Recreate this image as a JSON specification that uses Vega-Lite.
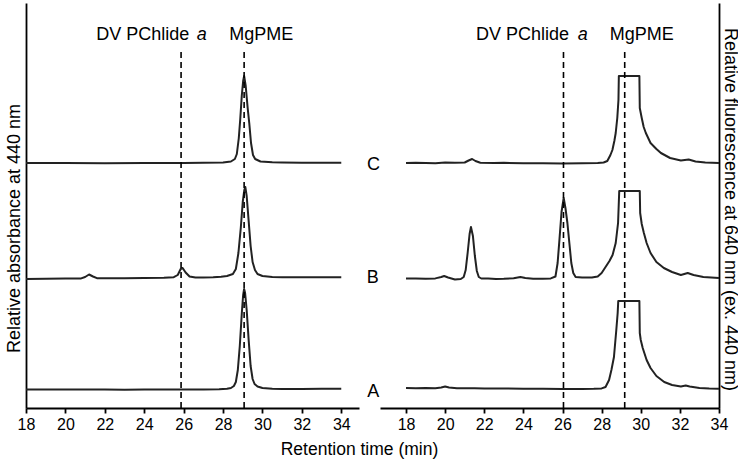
{
  "$schema": "https://vega.github.io/schema/vega-lite/v6.json",
  "padding": {"left": 5, "top": 3, "right": 0, "bottom": 0},
  "background": "white",
  "bounds": "flush",
  "config": {
    "view": {"stroke": null},
    "font": "Liberation Sans",
    "axis": {
      "domainColor": "black", "domainWidth": 1.8, "tickColor": "black", "tickWidth": 1.8,
      "labelColor": "black", "titleColor": "black", "labelFont": "Liberation Sans", "titleFont": "Liberation Sans",
      "labelFontSize": 16, "titleFontSize": 18, "titleFontWeight": "normal", "grid": false
    }
  },
  "title": {"text": "Retention time (min)", "orient": "bottom", "anchor": "middle", "fontSize": 17.5, "fontWeight": "normal", "font": "Liberation Sans", "color": "black", "offset": 9, "dx": -12},
  "spacing": 21,
  "datasets": {
    "leftTraces": [
      {"s": "A", "t": 18, "v": 18.5}, {"s": "A", "t": 19, "v": 18.6}, {"s": "A", "t": 20, "v": 18.5}, {"s": "A", "t": 21, "v": 18.4}, {"s": "A", "t": 22, "v": 18.5}, {"s": "A", "t": 23, "v": 18.3}, {"s": "A", "t": 24, "v": 18.4}, {"s": "A", "t": 25, "v": 18.5}, {"s": "A", "t": 26, "v": 18.6}, {"s": "A", "t": 27, "v": 18.6}, {"s": "A", "t": 27.8, "v": 18.8}, {"s": "A", "t": 28.2, "v": 19.2}, {"s": "A", "t": 28.4, "v": 20}, {"s": "A", "t": 28.55, "v": 22}, {"s": "A", "t": 28.65, "v": 26}, {"s": "A", "t": 28.75, "v": 38}, {"s": "A", "t": 28.85, "v": 62}, {"s": "A", "t": 28.95, "v": 94}, {"s": "A", "t": 29.02, "v": 113}, {"s": "A", "t": 29.07, "v": 119}, {"s": "A", "t": 29.12, "v": 115}, {"s": "A", "t": 29.2, "v": 98}, {"s": "A", "t": 29.3, "v": 68}, {"s": "A", "t": 29.4, "v": 42}, {"s": "A", "t": 29.5, "v": 29}, {"s": "A", "t": 29.6, "v": 24}, {"s": "A", "t": 29.75, "v": 21.5}, {"s": "A", "t": 30, "v": 20}, {"s": "A", "t": 30.5, "v": 19.3}, {"s": "A", "t": 31, "v": 19}, {"s": "A", "t": 32, "v": 19}, {"s": "A", "t": 33, "v": 19.2}, {"s": "A", "t": 34, "v": 19.3},
      {"s": "B", "t": 18, "v": 129}, {"s": "B", "t": 19, "v": 129.3}, {"s": "B", "t": 20, "v": 129.5}, {"s": "B", "t": 20.8, "v": 129.6}, {"s": "B", "t": 21.0, "v": 131}, {"s": "B", "t": 21.2, "v": 133.5}, {"s": "B", "t": 21.4, "v": 131.5}, {"s": "B", "t": 21.6, "v": 129.8}, {"s": "B", "t": 22, "v": 129.7}, {"s": "B", "t": 23, "v": 129.8}, {"s": "B", "t": 24, "v": 130}, {"s": "B", "t": 25, "v": 130.2}, {"s": "B", "t": 25.5, "v": 130.8}, {"s": "B", "t": 25.7, "v": 133}, {"s": "B", "t": 25.85, "v": 139}, {"s": "B", "t": 25.95, "v": 140}, {"s": "B", "t": 26.1, "v": 135.5}, {"s": "B", "t": 26.3, "v": 131.5}, {"s": "B", "t": 26.6, "v": 130.5}, {"s": "B", "t": 27, "v": 130.5}, {"s": "B", "t": 27.5, "v": 130.7}, {"s": "B", "t": 27.9, "v": 131.2}, {"s": "B", "t": 28.2, "v": 132}, {"s": "B", "t": 28.5, "v": 134}, {"s": "B", "t": 28.65, "v": 139}, {"s": "B", "t": 28.78, "v": 155}, {"s": "B", "t": 28.9, "v": 180}, {"s": "B", "t": 29.0, "v": 206}, {"s": "B", "t": 29.08, "v": 218}, {"s": "B", "t": 29.13, "v": 221}, {"s": "B", "t": 29.2, "v": 212}, {"s": "B", "t": 29.3, "v": 187}, {"s": "B", "t": 29.4, "v": 162}, {"s": "B", "t": 29.5, "v": 146}, {"s": "B", "t": 29.62, "v": 138}, {"s": "B", "t": 29.75, "v": 134}, {"s": "B", "t": 30, "v": 132}, {"s": "B", "t": 30.5, "v": 131}, {"s": "B", "t": 31, "v": 130.8}, {"s": "B", "t": 32, "v": 130.8}, {"s": "B", "t": 33, "v": 130.7}, {"s": "B", "t": 34, "v": 130.7},
      {"s": "C", "t": 18, "v": 245}, {"s": "C", "t": 20, "v": 245}, {"s": "C", "t": 22, "v": 244.8}, {"s": "C", "t": 24, "v": 245}, {"s": "C", "t": 26, "v": 245}, {"s": "C", "t": 27, "v": 245.2}, {"s": "C", "t": 28, "v": 245.5}, {"s": "C", "t": 28.4, "v": 246.5}, {"s": "C", "t": 28.6, "v": 249}, {"s": "C", "t": 28.7, "v": 254}, {"s": "C", "t": 28.8, "v": 270}, {"s": "C", "t": 28.87, "v": 288}, {"s": "C", "t": 28.95, "v": 312}, {"s": "C", "t": 29.02, "v": 327}, {"s": "C", "t": 29.07, "v": 332}, {"s": "C", "t": 29.15, "v": 322}, {"s": "C", "t": 29.25, "v": 300}, {"s": "C", "t": 29.33, "v": 285}, {"s": "C", "t": 29.42, "v": 265}, {"s": "C", "t": 29.52, "v": 253}, {"s": "C", "t": 29.63, "v": 249}, {"s": "C", "t": 29.9, "v": 246.5}, {"s": "C", "t": 30.5, "v": 245.8}, {"s": "C", "t": 31, "v": 245.5}, {"s": "C", "t": 32, "v": 245.3}, {"s": "C", "t": 33, "v": 245.3}, {"s": "C", "t": 34, "v": 245.3}
    ],
    "rightTraces": [
      {"s": "A", "t": 18, "v": 20}, {"s": "A", "t": 18.5, "v": 19.8}, {"s": "A", "t": 19, "v": 20}, {"s": "A", "t": 19.5, "v": 19.8}, {"s": "A", "t": 19.8, "v": 20.5}, {"s": "A", "t": 20.0, "v": 21.5}, {"s": "A", "t": 20.2, "v": 20.5}, {"s": "A", "t": 20.6, "v": 19.8}, {"s": "A", "t": 21, "v": 19.7}, {"s": "A", "t": 21.5, "v": 19.8}, {"s": "A", "t": 22, "v": 19.5}, {"s": "A", "t": 23, "v": 19.6}, {"s": "A", "t": 24, "v": 19.3}, {"s": "A", "t": 25, "v": 19.2}, {"s": "A", "t": 26, "v": 19.1}, {"s": "A", "t": 27, "v": 19}, {"s": "A", "t": 27.6, "v": 19.2}, {"s": "A", "t": 28.0, "v": 19.6}, {"s": "A", "t": 28.2, "v": 21}, {"s": "A", "t": 28.38, "v": 28}, {"s": "A", "t": 28.5, "v": 38}, {"s": "A", "t": 28.63, "v": 51}, {"s": "A", "t": 28.75, "v": 78}, {"s": "A", "t": 28.82, "v": 95}, {"s": "A", "t": 28.85, "v": 107}, {"s": "A", "t": 29.93, "v": 107}, {"s": "A", "t": 29.95, "v": 75}, {"s": "A", "t": 30.0, "v": 68}, {"s": "A", "t": 30.1, "v": 60}, {"s": "A", "t": 30.3, "v": 48}, {"s": "A", "t": 30.5, "v": 40}, {"s": "A", "t": 30.8, "v": 32}, {"s": "A", "t": 31.2, "v": 26}, {"s": "A", "t": 31.6, "v": 23}, {"s": "A", "t": 32.05, "v": 21.5}, {"s": "A", "t": 32.3, "v": 22.5}, {"s": "A", "t": 32.5, "v": 21.5}, {"s": "A", "t": 33, "v": 20}, {"s": "A", "t": 33.5, "v": 19.5}, {"s": "A", "t": 34, "v": 19.3},
      {"s": "B", "t": 18, "v": 129.5}, {"s": "B", "t": 18.5, "v": 129.5}, {"s": "B", "t": 19, "v": 129.3}, {"s": "B", "t": 19.5, "v": 129.6}, {"s": "B", "t": 19.8, "v": 131}, {"s": "B", "t": 19.95, "v": 132}, {"s": "B", "t": 20.15, "v": 130.5}, {"s": "B", "t": 20.5, "v": 128.5}, {"s": "B", "t": 20.8, "v": 129}, {"s": "B", "t": 20.95, "v": 131}, {"s": "B", "t": 21.05, "v": 138}, {"s": "B", "t": 21.15, "v": 155}, {"s": "B", "t": 21.25, "v": 174}, {"s": "B", "t": 21.32, "v": 181}, {"s": "B", "t": 21.42, "v": 172}, {"s": "B", "t": 21.52, "v": 152}, {"s": "B", "t": 21.62, "v": 137}, {"s": "B", "t": 21.72, "v": 131}, {"s": "B", "t": 21.85, "v": 129.5}, {"s": "B", "t": 22.2, "v": 129.5}, {"s": "B", "t": 22.6, "v": 129}, {"s": "B", "t": 23, "v": 129.2}, {"s": "B", "t": 23.5, "v": 129.8}, {"s": "B", "t": 23.85, "v": 131}, {"s": "B", "t": 24.1, "v": 130}, {"s": "B", "t": 24.5, "v": 129.3}, {"s": "B", "t": 25, "v": 129.2}, {"s": "B", "t": 25.4, "v": 129.6}, {"s": "B", "t": 25.64, "v": 131.5}, {"s": "B", "t": 25.75, "v": 145}, {"s": "B", "t": 25.85, "v": 170}, {"s": "B", "t": 25.95, "v": 196}, {"s": "B", "t": 26.06, "v": 210}, {"s": "B", "t": 26.15, "v": 200}, {"s": "B", "t": 26.25, "v": 185}, {"s": "B", "t": 26.35, "v": 165}, {"s": "B", "t": 26.45, "v": 145}, {"s": "B", "t": 26.55, "v": 135}, {"s": "B", "t": 26.67, "v": 131}, {"s": "B", "t": 27, "v": 130.5}, {"s": "B", "t": 27.5, "v": 130.5}, {"s": "B", "t": 27.8, "v": 131.5}, {"s": "B", "t": 28.0, "v": 135}, {"s": "B", "t": 28.2, "v": 141}, {"s": "B", "t": 28.4, "v": 147}, {"s": "B", "t": 28.56, "v": 153}, {"s": "B", "t": 28.72, "v": 165}, {"s": "B", "t": 28.84, "v": 185}, {"s": "B", "t": 28.9, "v": 217}, {"s": "B", "t": 29.95, "v": 217}, {"s": "B", "t": 29.97, "v": 195}, {"s": "B", "t": 30.05, "v": 184}, {"s": "B", "t": 30.16, "v": 175}, {"s": "B", "t": 30.3, "v": 165}, {"s": "B", "t": 30.5, "v": 155}, {"s": "B", "t": 30.8, "v": 146}, {"s": "B", "t": 31.18, "v": 140}, {"s": "B", "t": 31.6, "v": 136}, {"s": "B", "t": 32.05, "v": 133}, {"s": "B", "t": 32.4, "v": 135}, {"s": "B", "t": 32.7, "v": 133}, {"s": "B", "t": 33.2, "v": 131}, {"s": "B", "t": 34, "v": 130},
      {"s": "C", "t": 18, "v": 245}, {"s": "C", "t": 18.5, "v": 245.3}, {"s": "C", "t": 19, "v": 245}, {"s": "C", "t": 19.5, "v": 244.8}, {"s": "C", "t": 20, "v": 245.5}, {"s": "C", "t": 20.5, "v": 245.2}, {"s": "C", "t": 21, "v": 245.5}, {"s": "C", "t": 21.2, "v": 247.5}, {"s": "C", "t": 21.38, "v": 249}, {"s": "C", "t": 21.55, "v": 247}, {"s": "C", "t": 21.8, "v": 245.3}, {"s": "C", "t": 22.5, "v": 245}, {"s": "C", "t": 23, "v": 245.2}, {"s": "C", "t": 24, "v": 244.8}, {"s": "C", "t": 25, "v": 244.7}, {"s": "C", "t": 26, "v": 244.6}, {"s": "C", "t": 27, "v": 244.8}, {"s": "C", "t": 27.8, "v": 245}, {"s": "C", "t": 28.1, "v": 245.5}, {"s": "C", "t": 28.29, "v": 247}, {"s": "C", "t": 28.45, "v": 253}, {"s": "C", "t": 28.55, "v": 258}, {"s": "C", "t": 28.65, "v": 267}, {"s": "C", "t": 28.72, "v": 275}, {"s": "C", "t": 28.8, "v": 290}, {"s": "C", "t": 28.86, "v": 308}, {"s": "C", "t": 28.88, "v": 332}, {"s": "C", "t": 29.93, "v": 332}, {"s": "C", "t": 29.95, "v": 300}, {"s": "C", "t": 30.05, "v": 290}, {"s": "C", "t": 30.15, "v": 281}, {"s": "C", "t": 30.26, "v": 275}, {"s": "C", "t": 30.5, "v": 265}, {"s": "C", "t": 30.8, "v": 259}, {"s": "C", "t": 31.03, "v": 255}, {"s": "C", "t": 31.5, "v": 250}, {"s": "C", "t": 32.05, "v": 247.5}, {"s": "C", "t": 32.45, "v": 248.5}, {"s": "C", "t": 32.8, "v": 246.5}, {"s": "C", "t": 33.3, "v": 245.5}, {"s": "C", "t": 34, "v": 245}
    ],
    "leftRules": [{"t": 25.87, "v": 0, "v2": 360}, {"t": 29.07, "v": 0, "v2": 360}],
    "rightRules": [{"t": 26.05, "v": 0, "v2": 360}, {"t": 29.18, "v": 0, "v2": 360}],
    "leftLabels": [
      {"t": 23.92, "v": 368.5, "label": "DV PChlide"},
      {"t": 29.94, "v": 368.5, "label": "MgPME"},
      {"t": 35.63, "v": 238, "label": "C"},
      {"t": 35.6, "v": 124.7, "label": "B"},
      {"t": 35.62, "v": 11.3, "label": "A"}
    ],
    "leftItalic": [{"t": 26.92, "v": 368.5, "label": "a"}],
    "rightLabels": [
      {"t": 23.95, "v": 368.5, "label": "DV PChlide"},
      {"t": 30.05, "v": 368.5, "label": "MgPME"}
    ],
    "rightItalic": [{"t": 27.03, "v": 368.5, "label": "a"}]
  },
  "hconcat": [
    {
      "width": 333, "height": 405,
      "encoding": {
        "x": {"field": "t", "type": "quantitative", "scale": {"domain": [18, 34.9], "nice": false, "zero": false},
              "axis": {"values": [18, 20, 22, 24, 26, 28, 30, 32, 34], "tickSize": 5, "labelPadding": 3, "title": null, "labelFlush": false}},
        "y": {"field": "v", "type": "quantitative", "scale": {"domain": [0, 405], "nice": false, "zero": false},
              "axis": {"orient": "left", "ticks": false, "labels": false, "title": "Relative absorbance at 440 nm", "titlePadding": 3, "titleY": 225}}
      },
      "layer": [
        {"data": {"name": "leftTraces"}, "mark": {"type": "line", "color": "#222", "strokeWidth": 2, "strokeJoin": "round"},
         "encoding": {"detail": {"field": "s"}, "order": {"value": null}}},
        {"data": {"name": "leftRules"}, "mark": {"type": "rule", "color": "black", "strokeWidth": 1.6, "strokeDash": [6, 4]},
         "encoding": {"y2": {"field": "v2"}}},
        {"data": {"name": "leftLabels"}, "mark": {"type": "text", "fontSize": 18, "color": "black", "align": "center", "baseline": "alphabetic", "font": "Liberation Sans"},
         "encoding": {"text": {"field": "label"}}},
        {"data": {"name": "leftItalic"}, "mark": {"type": "text", "fontSize": 18, "fontStyle": "italic", "color": "black", "align": "center", "baseline": "alphabetic", "font": "Liberation Sans"},
         "encoding": {"text": {"field": "label"}}}
      ]
    },
    {
      "width": 339, "height": 405,
      "encoding": {
        "x": {"field": "t", "type": "quantitative", "scale": {"domain": [16.67, 34], "nice": false, "zero": false},
              "axis": {"values": [18, 20, 22, 24, 26, 28, 30, 32, 34], "tickSize": 5, "labelPadding": 3, "title": null, "labelFlush": false}},
        "y": {"field": "v", "type": "quantitative", "scale": {"domain": [0, 405], "nice": false, "zero": false},
              "axis": {"orient": "right", "ticks": false, "labels": false, "title": "Relative fluorescence at 640 nm (ex. 440 nm)", "titlePadding": 1, "titleY": 206}}
      },
      "layer": [
        {"data": {"name": "rightTraces"}, "mark": {"type": "line", "color": "#222", "strokeWidth": 2, "strokeJoin": "round"},
         "encoding": {"detail": {"field": "s"}, "order": {"value": null}}},
        {"data": {"name": "rightRules"}, "mark": {"type": "rule", "color": "black", "strokeWidth": 1.6, "strokeDash": [6, 4]},
         "encoding": {"y2": {"field": "v2"}}},
        {"data": {"name": "rightLabels"}, "mark": {"type": "text", "fontSize": 18, "color": "black", "align": "center", "baseline": "alphabetic", "font": "Liberation Sans"},
         "encoding": {"text": {"field": "label"}}},
        {"data": {"name": "rightItalic"}, "mark": {"type": "text", "fontSize": 18, "fontStyle": "italic", "color": "black", "align": "center", "baseline": "alphabetic", "font": "Liberation Sans"},
         "encoding": {"text": {"field": "label"}}}
      ]
    }
  ]
}
